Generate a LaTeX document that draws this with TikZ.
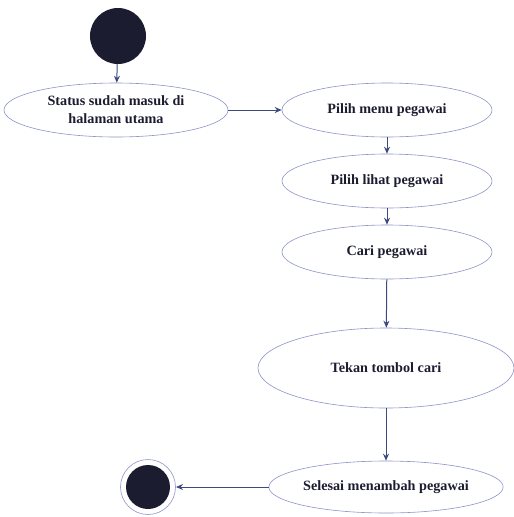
\documentclass[tikz,border=0pt]{standalone}
\usepackage{fontspec}
\setmainfont{Liberation Serif}
\usetikzlibrary{arrows.meta,shapes.geometric}
\definecolor{edgeblue}{HTML}{3C4A80}
\definecolor{rimblue}{HTML}{8C94C8}
\definecolor{inkdark}{HTML}{1C1C30}
\begin{document}
\begin{tikzpicture}[x=1pt,y=-1pt,
  act/.style={ellipse,draw=rimblue,line width=0.6pt,inner sep=0pt,
    font=\fontsize{14.2}{18}\selectfont\bfseries,text=inkdark,align=center},
  flow/.style={draw=edgeblue,line width=1pt,-{Stealth[length=7pt,width=6pt]}},
  startdot/.style={circle,fill=inkdark,minimum size=56pt,inner sep=0pt},
  enddot/.style={circle,fill=inkdark,minimum size=44pt,inner sep=0pt}
]
\useasboundingbox (0,0) rectangle (514,517);

\node[startdot] (start) at (118,36) {};
\node[act,minimum width=224pt,minimum height=54pt] (status) at (116,110)
  {Status sudah masuk di\\halaman utama};
\node[act,minimum width=210pt,minimum height=54pt] (menu) at (387,110) {Pilih menu pegawai};
\node[act,minimum width=210pt,minimum height=54pt] (lihat) at (387,181) {Pilih lihat pegawai};
\node[act,minimum width=210pt,minimum height=54pt] (cari) at (387,252) {Cari pegawai};
\node[act,minimum width=256pt,minimum height=80pt] (tekan) at (386,368) {Tekan tombol cari};
\node[act,minimum width=206pt,minimum height=52pt] (selesai) at (386,487) {Selesai menambah pegawai};

\node[enddot] (finish) at (148,487) {};
\draw[rimblue,line width=0.6pt] (finish.center) circle (27.5pt);
\coordinate (finishrim) at (176,487);

\draw[flow] (start) -- (status);
\draw[flow] (status) -- (menu);
\draw[flow] (menu) -- (lihat);
\draw[flow] (lihat) -- (cari);
\draw[flow] (cari) -- (tekan);
\draw[flow] (tekan) -- (selesai);
\draw[flow] (selesai) -- (finishrim);
\end{tikzpicture}
\end{document}
